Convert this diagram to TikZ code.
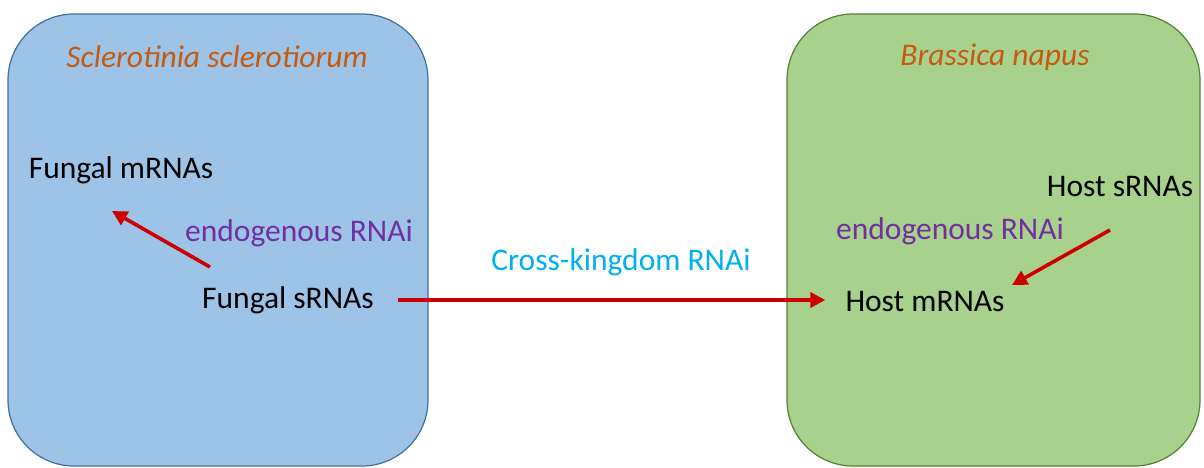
\documentclass[tikz,border=0pt]{standalone}
\usepackage{fontspec}
\setmainfont{Carlito}
\usetikzlibrary{arrows.meta}
\definecolor{boxblue}{HTML}{9DC3E6}
\definecolor{edgeblue}{HTML}{41719C}
\definecolor{boxgreen}{HTML}{A9D18E}
\definecolor{edgegreen}{HTML}{538135}
\definecolor{titleorange}{HTML}{C55A11}
\definecolor{rnaipurple}{HTML}{7030A0}
\definecolor{crosscyan}{HTML}{00B0F0}
\definecolor{arrowred}{RGB}{204,0,0}
\tikzset{
  organism/.style={rounded corners=66pt, line width=1.2pt},
  lbl/.style={inner sep=2pt, font=\fontsize{31.5}{37}\selectfont, text=black},
  title/.style={lbl, font=\fontsize{31.5}{37}\selectfont\itshape, text=titleorange},
  rnai/.style={lbl, text=rnaipurple},
  redarrow/.style={draw=arrowred, line width=3.6pt, -{Triangle[length=15pt,width=15pt]}}
}
\begin{document}
\begin{tikzpicture}[x=1pt,y=-1pt]
\useasboundingbox (0,0) rectangle (1204,467);
\fill[white] (0,0) rectangle (1204,467);
\draw[organism, fill=boxblue, draw=edgeblue] (8,14) rectangle (428,466);
\draw[organism, fill=boxgreen, draw=edgegreen] (787,14) rectangle (1200,466);

\node[title] (t1) at (217,57) {Sclerotinia sclerotiorum};
\node[title] (t2) at (995,57) {Brassica napus};

\node[lbl] (fm) at (121,170) {Fungal mRNAs};
\node[rnai] (e1) at (299,233) {endogenous RNAi};
\node[lbl] (fs) at (288,300) {Fungal sRNAs};

\node[lbl] (hs) at (1120,187) {Host sRNAs};
\node[rnai] (e2) at (950,231) {endogenous RNAi};
\node[lbl] (hm) at (925,302) {Host mRNAs};

\node[lbl, text=crosscyan] (ck) at (621,262) {Cross-kingdom RNAi};

\coordinate (a1s) at (210,267);
\coordinate (a1e) at (112,211);
\coordinate (a2s) at (1110,230);
\coordinate (a2e) at (1012,285);

\draw[redarrow] (a1s) -- (a1e);
\draw[redarrow] (a2s) -- (a2e);
\draw[redarrow, shorten <=22pt, shorten >=18pt] (fs.east |- 0,300) -- (hm.west |- 0,300);
\end{tikzpicture}
\end{document}
